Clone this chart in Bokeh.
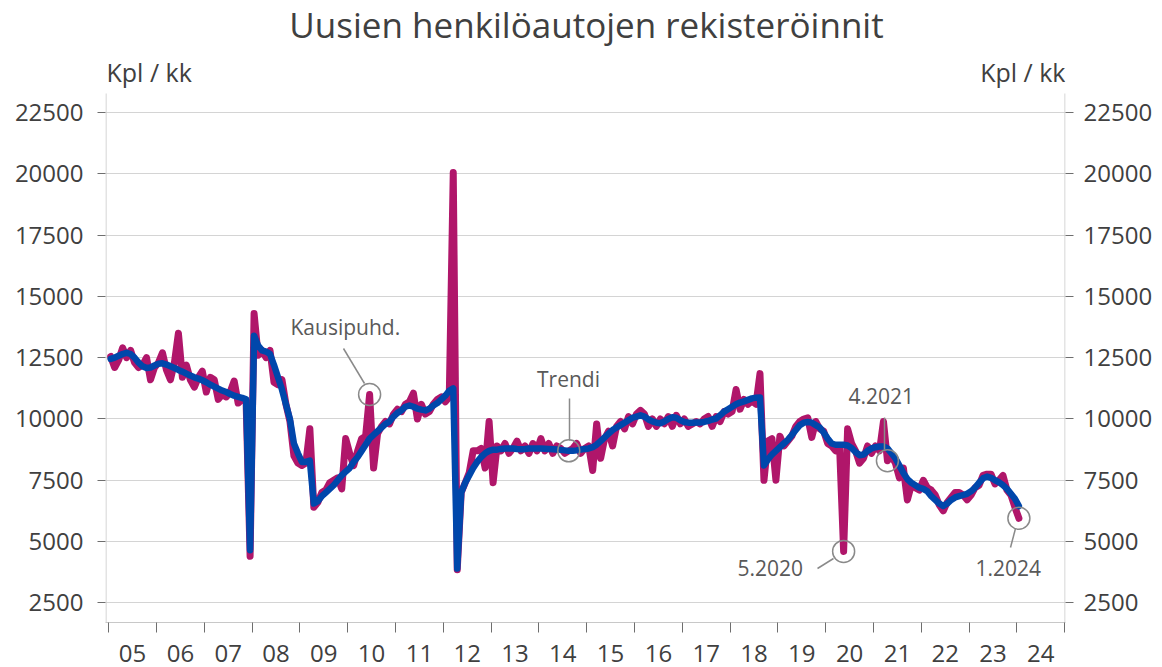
from bokeh.plotting import figure
from bokeh.models import Range1d, LinearAxis, FixedTicker, Label
from bokeh.embed import file_html
from bokeh.resources import INLINE

# ---------------- data ----------------
title_text = "Uusien henkilöautojen rekisteröinnit"
unit_text = "Kpl / kk"
year_labels = ["05", "06", "07", "08", "09", "10", "11", "12", "13", "14",
               "15", "16", "17", "18", "19", "20", "21", "22", "23", "24"]
y_ticks = [2500, 5000, 7500, 10000, 12500, 15000, 17500, 20000, 22500]

# seasonally adjusted (Kausipuhd.), monthly 1.2005 - 1.2024
sa = [
    12550, 12100, 12400, 12900, 12500, 12800, 12300, 12100, 12200, 12500, 11600, 12100,  # 2005
    12300, 12700, 12000, 11600, 12300, 13500, 11700, 12200, 11600, 11300, 11700, 11950,  # 2006
    11100, 11700, 11600, 10800, 11000, 10900, 11100, 11550, 10650, 10800, 10700, 4400,    # 2007
    14300, 12600, 12800, 12500, 12800, 11500, 11400, 11600, 10600, 9900, 8500, 8200,      # 2008
    8100, 8200, 9600, 6400, 6600, 7000, 7100, 7400, 7500, 7600, 7150, 9200,               # 2009
    8600, 8100, 8700, 9200, 9300, 11000, 8000, 9400, 9700, 9900, 9800, 10200,             # 2010
    10400, 10300, 10600, 10700, 11050, 10000, 10600, 10200, 10300, 10600, 10800, 10900,   # 2011
    10700, 10900, 20050, 3850, 7000, 7400, 7800, 8700, 8700, 8800, 8000, 9900,            # 2012
    7400, 8900, 8700, 9000, 8600, 8800, 9100, 8700, 8900, 8600, 9000, 8700,               # 2013
    9200, 8700, 9000, 8600, 8900, 8800, 8600, 8700, 8800, 9000, 8600, 8800,               # 2014
    8900, 7900, 9800, 8400, 9200, 9500, 8900, 9700, 9900, 9600, 10100, 9800,              # 2015
    10200, 10350, 10200, 9700, 10000, 9700, 10000, 9800, 10100, 9700, 10150, 9800,        # 2016
    10000, 9700, 9800, 9900, 9800, 10000, 10100, 9700, 10100, 9900, 10300, 10200,         # 2017
    10300, 11200, 10400, 10800, 10600, 10750, 10600, 11850, 7500, 9100, 9200, 7500,       # 2018
    9300, 8900, 9100, 9300, 9700, 9900, 10000, 10050, 9250, 9900, 9600, 9500,             # 2019
    9000, 8900, 8700, 8800, 4600, 9600, 9000, 8700, 8200, 8400, 8900, 8600,               # 2020
    8900, 8700, 9900, 8300, 8500, 8200, 7600, 8000, 6700, 7300, 7200, 7100,               # 2021
    7500, 7200, 7100, 6900, 6500, 6250, 6600, 6800, 7000, 7000, 6900, 6700,               # 2022
    6900, 7200, 7300, 7700, 7750, 7750, 7350, 7500, 7700, 7100, 6900, 6400,               # 2023
    5950,                                                                                 # 2024
]

# trend (Trendi)
trend = [
    12450, 12500, 12580, 12650, 12700, 12650, 12500, 12300, 12150, 12080, 12100, 12180,   # 2005
    12250, 12270, 12220, 12150, 12080, 12000, 11930, 11850, 11770, 11700, 11650, 11580,   # 2006
    11500, 11400, 11320, 11240, 11160, 11100, 11020, 10950, 10900, 10860, 10800, 4650,    # 2007
    13400, 13000, 12800, 12750, 12650, 12200, 11700, 11200, 10600, 10000, 9000, 8600,     # 2008
    8250, 8250, 8300, 6550, 6650, 6850, 7000, 7150, 7300, 7500, 7700, 7850,               # 2009
    8000, 8250, 8450, 8700, 8950, 9200, 9350, 9500, 9650, 9800, 9900, 10100,              # 2010
    10250, 10350, 10500, 10550, 10500, 10420, 10380, 10350, 10420, 10550, 10650, 10800,   # 2011
    10950, 11150, 11250, 3900, 7000, 7400, 7700, 8000, 8250, 8450, 8600, 8700,            # 2012
    8750, 8750, 8780, 8800, 8800, 8800, 8780, 8770, 8780, 8800, 8800, 8800,               # 2013
    8800, 8790, 8780, 8770, 8760, 8740, 8720, 8700, 8700, 8720, 8750, 8780,               # 2014
    8800, 8850, 8950, 9100, 9250, 9400, 9550, 9650, 9750, 9850, 9950, 10050,              # 2015
    10100, 10150, 10100, 9980, 9900, 9850, 9830, 9900, 10000, 10070, 10050, 9950,         # 2016
    9880, 9850, 9850, 9860, 9860, 9880, 9920, 9980, 10020, 10150, 10300, 10400,           # 2017
    10500, 10600, 10670, 10720, 10780, 10840, 10870, 10880, 8100, 8350, 8550, 8700,       # 2018
    8850, 9000, 9150, 9350, 9550, 9750, 9850, 9880, 9850, 9750, 9650, 9450,               # 2019
    9200, 9000, 8950, 8950, 8950, 8920, 8820, 8650, 8520, 8550, 8700, 8800,               # 2020
    8850, 8880, 8880, 8800, 8600, 8400, 8100, 7800, 7550, 7400, 7300, 7200,               # 2021
    7150, 7050, 6850, 6700, 6550, 6450, 6550, 6700, 6800, 6850, 6900, 6950,               # 2022
    7050, 7200, 7400, 7580, 7650, 7600, 7500, 7420, 7300, 7150, 6950, 6750,               # 2023
    6450,                                                                                 # 2024
]

# annotations: label text, series name, month index (0 = 1.2005)
notes = [
    ("Kausipuhd.", "sa", 65),
    ("Trendi", "trend", 115),
    ("5.2020", "sa", 184),
    ("4.2021", "sa", 195),
    ("1.2024", "sa", 228),
]

# ---------------- layout (page pixels) ----------------
W, H = 1162, 667
FL, FR, FT, FB = 105, 1065, 0, 622   # plot frame edges
AXIS_TOP = 93                         # where the visible axis lines start
X0, X1 = -0.8, 240.2
Y0 = 1700
Y_PER_PX = 21575 / 529
Y1 = Y0 + (FB - FT) * Y_PER_PX


def dx(px):
    return X0 + (px - FL) * (X1 - X0) / (FR - FL)


def dy(py):
    return Y1 - (py - FT) * Y_PER_PX


FONT = "Open Sans"
TXT = "#404040"
ANN = "#595959"
MAGENTA = "#B0166A"
BLUE = "#0047AB"
AXIS_C = "#c8c8c8"

xs = [m + 0.5 for m in range(len(sa))]

p = figure(width=W, height=H, output_backend="svg", toolbar_location=None,
           title=None,
           x_range=Range1d(X0, X1), y_range=Range1d(Y0, Y1),
           min_border_left=FL, min_border_right=W - FR,
           min_border_top=FT, min_border_bottom=H - FB)
p.outline_line_color = None
p.background_fill_color = "white"
p.border_fill_color = "white"

# grid
p.xgrid.visible = False
p.ygrid.ticker = FixedTicker(ticks=y_ticks)
p.ygrid.grid_line_color = "#d4d4d4"
p.ygrid.grid_line_width = 1


def style_y(ax, standoff):
    ax.ticker = FixedTicker(ticks=y_ticks)
    ax.axis_line_color = None
    ax.major_tick_line_color = "#6e6e6e"
    ax.major_tick_out = 8
    ax.major_tick_in = 0
    ax.minor_tick_out = 0
    ax.minor_tick_in = 0
    ax.major_label_text_font = FONT
    ax.major_label_text_font_size = "24px"
    ax.major_label_text_color = TXT
    ax.major_label_standoff = standoff


style_y(p.yaxis[0], 14)
right_axis = LinearAxis()
style_y(right_axis, 10)
p.add_layout(right_axis, "right")

xa = p.xaxis[0]
mids = [6 + 12 * i for i in range(len(year_labels))]
xa.ticker = FixedTicker(ticks=mids, minor_ticks=[12 * i for i in range(len(year_labels) + 1)])
xa.major_label_overrides = {m: lab for m, lab in zip(mids, year_labels)}
xa.major_tick_out = 0
xa.major_tick_in = 0
xa.minor_tick_out = 10
xa.minor_tick_in = 0
xa.minor_tick_line_color = "#6e6e6e"
xa.axis_line_color = AXIS_C
xa.major_label_text_font = FONT
xa.major_label_text_font_size = "24px"
xa.major_label_text_color = TXT
xa.major_label_standoff = 12

# visible vertical axis lines (start below the title area)
p.segment(x0=[dx(FL + 0.5), dx(FR - 0.5)], y0=[Y0, Y0],
          x1=[dx(FL + 0.5), dx(FR - 0.5)], y1=[dy(AXIS_TOP), dy(AXIS_TOP)],
          line_color=AXIS_C, line_width=1)

# series
p.line(xs, sa, line_color=MAGENTA, line_width=7, line_join="round", line_cap="round")
p.line(xs, trend, line_color=BLUE, line_width=6.5, line_join="round", line_cap="round")

# annotation circles at the data points
series = {"sa": sa, "trend": trend}
cx = [xs[m] for _, s, m in notes]
cy = [series[s][m] for _, s, m in notes]
p.scatter(cx, cy, marker="circle", size=22, fill_color=None,
          line_color="#8a8a8a", line_width=1.5)

# leader lines (page pixel positions)
leaders = [
    ((343, 348), (364, 383)),
    ((569, 398), (569, 440)),
    ((817, 568), (833, 558)),
    ((884, 417), (884, 449)),
    ((1015, 528), (1010, 547)),
]
p.segment(x0=[dx(a[0]) for a, b in leaders], y0=[dy(a[1]) for a, b in leaders],
          x1=[dx(b[0]) for a, b in leaders], y1=[dy(b[1]) for a, b in leaders],
          line_color="#8a8a8a", line_width=1.5)


def add_text(txt, px, baseline_py, size, align, color):
    # vertical placement by text middle; glyph baseline sits ~0.42em below it
    p.add_layout(Label(x=dx(px), y=dy(baseline_py - 0.42 * size), text=txt,
                       text_align=align, text_baseline="middle", text_font=FONT,
                       text_font_size=f"{size}px", text_color=color))


# annotation texts (x, glyph baseline y in page pixels)
text_pos = [(290, 335, "left"), (568, 387, "center"), (737, 576, "left"),
            (848, 404, "left"), (975, 576, "left")]
for (txt, _, _), (tx, ty, al) in zip(notes, text_pos):
    add_text(txt, tx, ty, 21, al, ANN)

# title & unit labels
add_text(title_text, 586, 39, 35, "center", TXT)
add_text(unit_text, 106, 82, 25, "left", TXT)
add_text(unit_text, 1065, 82, 25, "right", TXT)

open("out.html", "w").write(file_html(p, INLINE))
